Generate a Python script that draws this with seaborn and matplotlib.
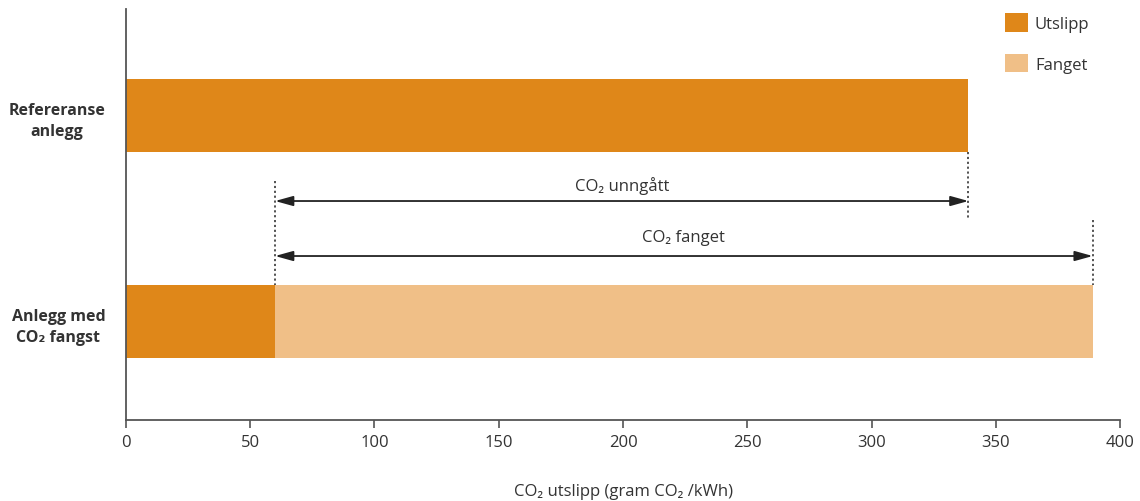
import pandas as pd
import matplotlib
matplotlib.use("Agg")
import matplotlib.pyplot as plt
from matplotlib.patches import Patch
import seaborn as sns

# data
plants = ["Refereranse\nanlegg", "Anlegg med\nCO₂ fangst"]
utslipp = [339, 60]
fanget = [0, 329]
series_names = ["Utslipp", "Fanget"]
x_ticks = [0, 50, 100, 150, 200, 250, 300, 350, 400]

c_utslipp = "#DF8719"
c_fanget = "#F0BF87"
txt = "#333333"
axis_col = "#555555"

sns.set_theme(style="white")
plt.rcParams["font.family"] = ["Open Sans", "DejaVu Sans"]

df = pd.DataFrame({"plant": plants, "utslipp": utslipp, "fanget": fanget})
df["total"] = df["utslipp"] + df["fanget"]

fig = plt.figure(figsize=(11.4, 5.02), dpi=100)
ax = fig.add_axes([0.1105, 0.1614, 0.8720, 0.8186])

# stacked: draw total in light colour, then emissions on top
sns.barplot(data=df, x="total", y="plant", orient="h", color=c_fanget,
            width=0.354, saturation=1, linewidth=0, ax=ax)
sns.barplot(data=df, x="utslipp", y="plant", orient="h", color=c_utslipp,
            width=0.354, saturation=1, linewidth=0, ax=ax)

ax.set_xlim(0, 400)
ax.set_ylim(1.478, -0.517)
ax.set_xticks(x_ticks)
ax.set_xticklabels([str(t) for t in x_ticks], fontsize=12, color=txt)
ax.tick_params(axis="x", length=6, width=1.2, color=axis_col, pad=4, bottom=True)
ax.tick_params(axis="y", length=0, pad=15)
for lab in ax.get_yticklabels():
    lab.set_fontsize(11.5)
    lab.set_fontweight("bold")
    lab.set_color(txt)
    lab.set_multialignment("center")
    lab.set_linespacing(1.45)
ax.set_ylabel("")
ax.set_xlabel("CO₂ utslipp (gram CO₂ /kWh)", fontsize=12, color=txt, labelpad=24)

for s in ["top", "right"]:
    ax.spines[s].set_visible(False)
for s in ["left", "bottom"]:
    ax.spines[s].set_color(axis_col)
    ax.spines[s].set_linewidth(1.3)

# dotted guide lines
ref_total = df["total"][0]
ccs_emit = df["utslipp"][1]
ccs_total = df["total"][1]
dots = (0, (1.2, 1.5))
ax.vlines(ccs_emit, 0.318, 0.823, colors="#444444", linestyles=dots, lw=1.3)
ax.vlines(ref_total, 0.177, 0.498, colors="#444444", linestyles=dots, lw=1.3)
ax.vlines(ccs_total, 0.507, 0.823, colors="#444444", linestyles=dots, lw=1.3)

arrow = dict(arrowstyle="<|-|>,head_length=0.9,head_width=0.25", color="#222222",
             lw=1.3, shrinkA=0, shrinkB=0)
ax.annotate("", xy=(ccs_emit, 0.415), xytext=(ref_total, 0.415), arrowprops=arrow)
ax.annotate("", xy=(ccs_emit, 0.682), xytext=(ccs_total, 0.682), arrowprops=arrow)
ax.text((ccs_emit + ref_total) / 2, 0.337, "CO₂ unngått", ha="center", va="center",
        fontsize=12, color=txt)
ax.text((ccs_emit + ccs_total) / 2, 0.590, "CO₂ fanget", ha="center", va="center",
        fontsize=12, color=txt)

handles = [Patch(facecolor=c_utslipp, edgecolor="none"),
           Patch(facecolor=c_fanget, edgecolor="none")]
leg = fig.legend(handles, series_names, loc="upper left",
                 bbox_to_anchor=(1005 / 1140, 1 - 14 / 502), frameon=False,
                 fontsize=12, handlelength=1.35, handleheight=1.35,
                 handletextpad=0.45, labelspacing=1.3, borderpad=0, borderaxespad=0)
for t in leg.get_texts():
    t.set_color(txt)

fig.savefig("out.png", dpi=100)
